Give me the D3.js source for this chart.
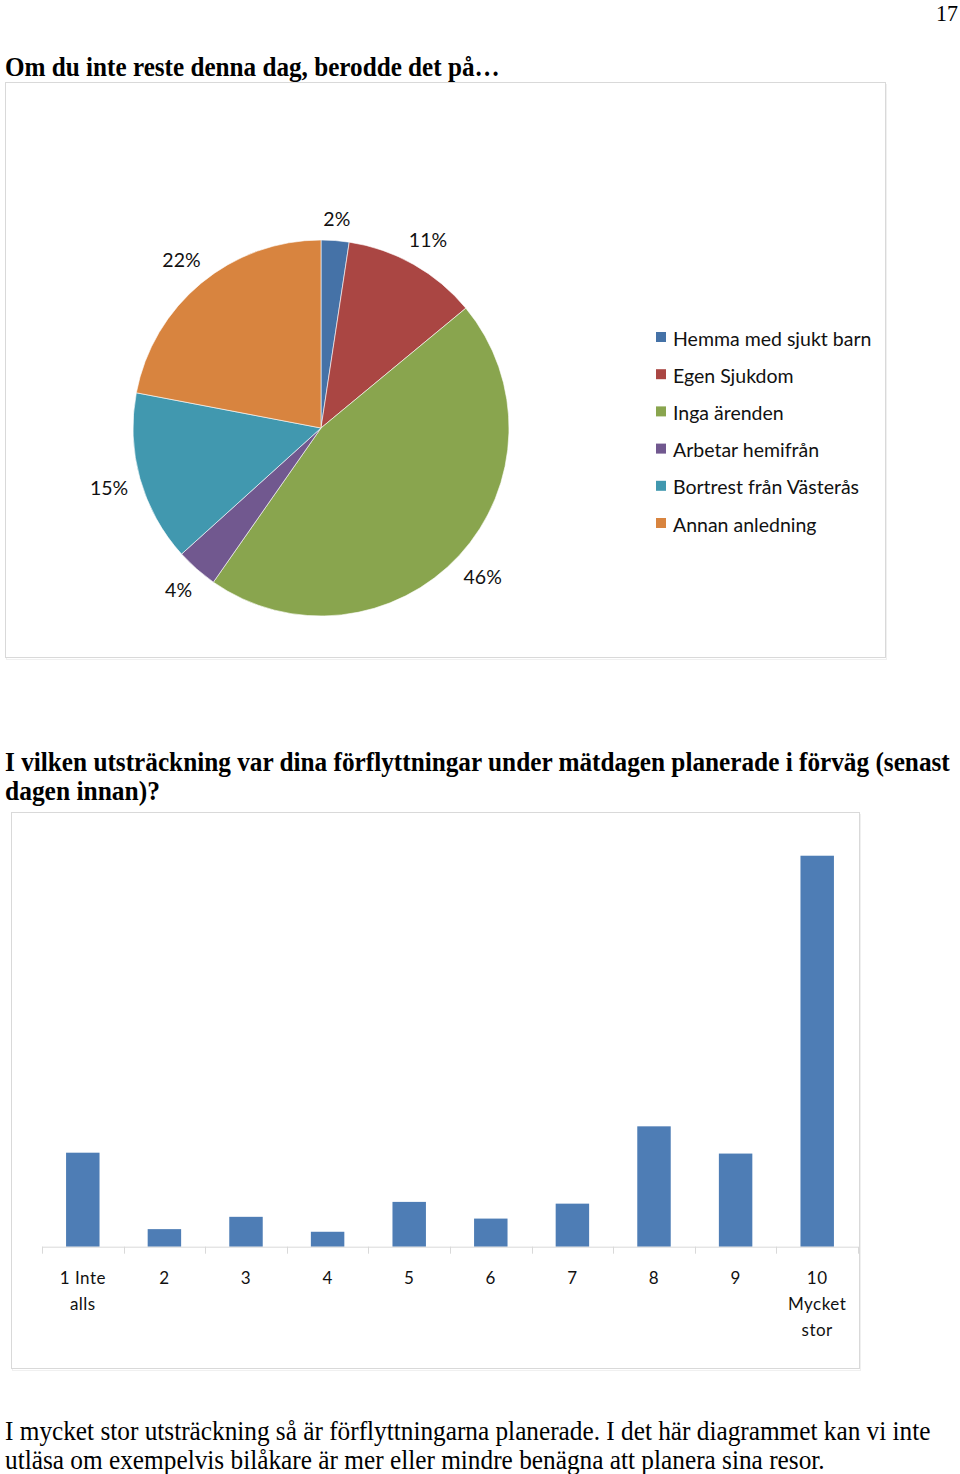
<!DOCTYPE html>
<html><head><meta charset="utf-8">
<script src="https://cdn.jsdelivr.net/npm/d3@7/dist/d3.min.js"></script>
<style>body{margin:0;background:#fff}svg{display:block}</style>
</head><body>
<script>
// ---- Data ----
const pieCategories = ["Hemma med sjukt barn","Egen Sjukdom","Inga ärenden","Arbetar hemifrån","Bortrest från Västerås","Annan anledning"];
const pieValues = [2.4, 11.6, 45.7, 3.6, 14.7, 22.0];
const pieLabels = ["2%","11%","46%","4%","15%","22%"];
const pieColors = ["#4572A7","#AA4643","#89A54E","#71588F","#4198AF","#D8843F"];

const barCategories = [["1 Inte","alls"],["2"],["3"],["4"],["5"],["6"],["7"],["8"],["9"],["10","Mycket","stor"]];
const barValues = [10.7, 2.0, 3.4, 1.7, 5.1, 3.2, 4.9, 13.7, 10.6, 44.5];

const pageNumber = "17";
const title1 = "Om du inte reste denna dag, berodde det på…";
const title2 = ["I vilken utsträckning var dina förflyttningar under mätdagen planerade i förväg (senast","dagen innan)?"];
const bodyText = ["I mycket stor utsträckning så är förflyttningarna planerade. I det här diagrammet kan vi inte","utläsa om exempelvis bilåkare är mer eller mindre benägna att planera sina resor."];

// ---- Drawing ----
const W = 960, H = 1474;
const svg = d3.select("body").append("svg").attr("width", W).attr("height", H);
svg.append("rect").attr("width", W).attr("height", H).attr("fill", "#fff");

const serif = "'Liberation Serif','Times New Roman',serif";
const sans = "Lato,'Open Sans',sans-serif";

// serif text squeezed horizontally to a target width (like the reference's condensed type)
function serifText(txt, x, y, len, size, bold) {
  const t = svg.append("text").attr("x", 0).attr("y", 0)
    .attr("font-family", serif).attr("font-size", size)
    .attr("font-weight", bold ? "bold" : "normal")
    .attr("fill", "#000").text(txt);
  const natural = t.node().getComputedTextLength();
  const s = natural > 0 ? len / natural : 1;
  t.attr("transform", `translate(${x},${y}) scale(${s},1)`);
}

serifText(pageNumber, 936, 21, 22, 24, false);
serifText(title1, 5, 76, 495, 28, true);
serifText(title2[0], 5, 771, 945, 28, true);
serifText(title2[1], 5, 800, 155, 28, true);
serifText(bodyText[0], 5, 1440, 926, 27, false);
serifText(bodyText[1], 5, 1469, 820, 27, false);

// chart frames
function frame(x, y, w, h) {
  svg.append("rect").attr("x", x + 1).attr("y", y + 2).attr("width", w).attr("height", h)
    .attr("fill", "none").attr("stroke", "#f0f0f0").attr("stroke-width", 1);
  svg.append("rect").attr("x", x).attr("y", y).attr("width", w).attr("height", h)
    .attr("fill", "#fff").attr("stroke", "#d9d9d9").attr("stroke-width", 1);
}
frame(5.5, 82.5, 880, 575);
frame(11.5, 812.5, 848, 556);

// ---- Pie ----
const cx = 321, cy = 428, R = 188, gap = 11;
const pie = d3.pie().sort(null).value(d => d)(pieValues);
const arc = d3.arc().innerRadius(0).outerRadius(R);
const pg = svg.append("g").attr("transform", `translate(${cx},${cy})`);
pg.selectAll("path").data(pie).join("path")
  .attr("d", arc).attr("fill", (d, i) => pieColors[i])
  .attr("stroke", "#fff").attr("stroke-width", 0.6);
// outside-end labels: the label box sits a fixed gap outside the rim
const labels = pg.selectAll("text").data(pie).join("text")
  .attr("text-anchor", "middle").attr("dominant-baseline", "central")
  .attr("font-family", sans).attr("font-size", 19.5).attr("fill", "#111")
  .text((d, i) => pieLabels[i]);
labels.each(function(d) {
  const a = (d.startAngle + d.endAngle) / 2;
  const sx = Math.sin(a), sy = -Math.cos(a);
  const hw = this.getComputedTextLength() / 2, hh = 10;
  const r = R + gap + Math.abs(sx) * hw + Math.abs(sy) * hh;
  d3.select(this).attr("transform", `translate(${sx * r},${sy * r})`);
});

// legend
const legendY = d3.scalePoint().domain(pieCategories).range([338, 524]);
const lg = svg.append("g");
lg.selectAll("rect").data(pieCategories).join("rect")
  .attr("x", 656).attr("y", d => legendY(d) - 6).attr("width", 10).attr("height", 10)
  .attr("fill", (d, i) => pieColors[i]);
lg.selectAll("text").data(pieCategories).join("text")
  .attr("x", 673).attr("y", d => legendY(d)).attr("dominant-baseline", "central")
  .attr("font-family", sans).attr("font-size", 19.5).attr("fill", "#111")
  .text(d => d);

// ---- Bar chart ----
const x = d3.scaleBand().domain(d3.range(barValues.length)).range([42, 858]).padding(0);
const y = d3.scaleLinear().domain([0, 50]).range([1246.7, 1246.7 - 439.3]);
const bw = x.bandwidth() * 0.41;
const bg = svg.append("g");
bg.selectAll("rect").data(barValues).join("rect")
  .attr("x", (d, i) => x(i) + (x.bandwidth() - bw) / 2)
  .attr("y", d => y(d))
  .attr("width", bw)
  .attr("height", d => y(0) - y(d))
  .attr("fill", "#4E7DB5");

// axis line and ticks
bg.append("line").attr("x1", 42).attr("x2", 858).attr("y1", y(0) + 0.5).attr("y2", y(0) + 0.5)
  .attr("stroke", "#d9d9d9").attr("stroke-width", 1);
const tickPos = d3.range(barValues.length + 1).map(i => i < barValues.length ? x(i) : x(i - 1) + x.bandwidth());
bg.selectAll("line.tick").data(tickPos).join("line").attr("class", "tick")
  .attr("x1", d => Math.round(d) + 0.5).attr("x2", d => Math.round(d) + 0.5)
  .attr("y1", y(0)).attr("y2", y(0) + 7).attr("stroke", "#d9d9d9");

// category labels
const catG = bg.selectAll("g.cat").data(barCategories).join("g").attr("class", "cat");
catG.each(function(lines, i) {
  const g = d3.select(this);
  lines.forEach((ln, j) => {
    g.append("text").attr("x", x(i) + x.bandwidth() / 2).attr("y", 1277 + j * 26)
      .attr("text-anchor", "middle").attr("dominant-baseline", "central")
      .attr("font-family", sans).attr("font-size", 17).attr("fill", "#111")
      .attr("letter-spacing", 0.5)
      .text(ln);
  });
});
</script>
</body></html>
